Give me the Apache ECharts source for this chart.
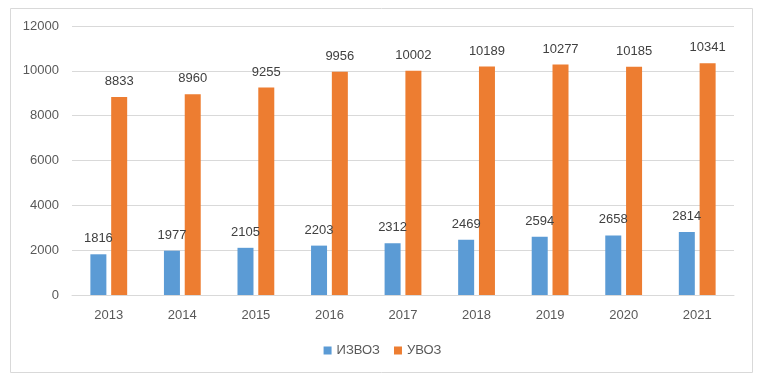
<!DOCTYPE html>
<html><head><meta charset="utf-8">
<script src="https://cdn.jsdelivr.net/npm/echarts@6/dist/echarts.min.js"></script>
<style>html,body{margin:0;padding:0;background:#fff}#c{width:765px;height:384px}</style>
</head><body><div id="c"></div>
<script>
const categories = ['2013','2014','2015','2016','2017','2018','2019','2020','2021'];
const izvoz = [1816,1977,2105,2203,2312,2469,2594,2658,2814];
const uvoz = [8833,8960,9255,9956,10002,10189,10277,10185,10341];
const seriesNames = ['ИЗВОЗ','УВОЗ'];
const font = 'Liberation Sans, Arial, sans-serif';
const chart = echarts.init(document.getElementById('c'));
const lbl = {show:true, position:'top', distance:9, color:'#404040', fontSize:13, fontFamily:font};
chart.setOption({
  animation:false,
  graphic:[{type:'rect', shape:{x:10.5,y:8.5,width:742,height:364}, style:{fill:'none', stroke:'#d9d9d9', lineWidth:1}, silent:true}],
  grid:{left:72, right:31, top:26, bottom:89},
  legend:{bottom:22, left:'center', itemWidth:8, itemHeight:8, itemGap:14, icon:'rect',
    textStyle:{color:'#595959', fontSize:13, fontFamily:font}, data:seriesNames},
  xAxis:{type:'category', data:categories,
    axisLine:{lineStyle:{color:'#d9d9d9'}}, axisTick:{show:false},
    axisLabel:{color:'#595959', fontSize:13, fontFamily:font, margin:14}},
  yAxis:{type:'value', min:0, max:12000, interval:2000,
    axisLine:{show:false}, axisTick:{show:false},
    splitLine:{lineStyle:{color:'#d9d9d9'}},
    axisLabel:{color:'#595959', fontSize:13, fontFamily:font, margin:13, formatter:v => String(v)}},
  series:[
    {name:seriesNames[0], type:'bar', data:izvoz, barWidth:16, barGap:'30%', itemStyle:{color:'#5B9BD5'}, label:lbl},
    {name:seriesNames[1], type:'bar', data:uvoz, barWidth:16, barGap:'30%', itemStyle:{color:'#ED7D31'}, label:lbl}
  ]
});
</script></body></html>
